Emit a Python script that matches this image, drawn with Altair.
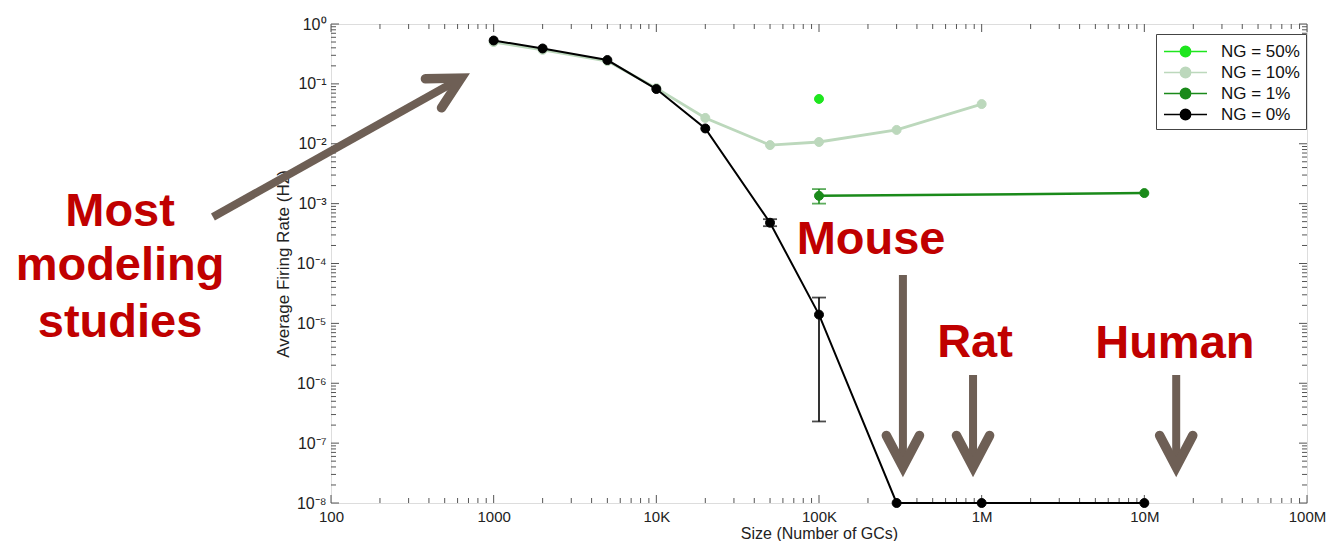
import json
import altair as alt
import pandas as pd

# ---------------- data ----------------
groups = ["NG = 50%", "NG = 10%", "NG = 1%", "NG = 0%"]
group_colors = ["#1ee61e", "#bcd8bc", "#1a8a1a", "#000000"]

size_50 = [1e5]
rate_50 = [0.056]
size_10 = [1e3, 2e3, 5e3, 1e4, 2e4, 5e4, 1e5, 3e5, 1e6]
rate_10 = [0.50, 0.37, 0.24, 0.085, 0.027, 0.0095, 0.0107, 0.017, 0.046]
size_1 = [1e5, 1e7]
rate_1 = [1.35e-3, 1.5e-3]
size_0 = [1e3, 2e3, 5e3, 1e4, 2e4, 5e4, 1e5, 3e5, 1e6, 1e7]
rate_0 = [0.53, 0.39, 0.25, 0.082, 0.018, 4.8e-4, 1.4e-5, 1e-8, 1e-8, 1e-8]

err_group = ["NG = 0%", "NG = 0%", "NG = 1%"]
err_size = [5e4, 1e5, 1e5]
err_low = [4.2e-4, 2.3e-7, 1.0e-3]
err_high = [5.5e-4, 2.7e-5, 1.75e-3]

x_ticks = [1e2, 1e3, 1e4, 1e5, 1e6, 1e7, 1e8]
x_tick_labels = ["100", "1000", "10K", "100K", "1M", "10M", "100M"]
y_ticks = [1e-8, 1e-7, 1e-6, 1e-5, 1e-4, 1e-3, 1e-2, 1e-1, 1.0]
y_tick_labels = ["10⁻⁸", "10⁻⁷", "10⁻⁶", "10⁻⁵", "10⁻⁴", "10⁻³", "10⁻²", "10⁻¹", "10⁰"]

# annotations (in data units)
ann_text = ["Most", "modeling", "studies", "Mouse", "Rat", "Human"]
ann_x = [5.05, 5.05, 5.05, 2.09e5, 9.1e5, 1.54e7]
ann_y = [4.2e-4, 5.3e-5, 5.9e-6, 1.44e-4, 2.75e-6, 2.64e-6]

arrow_x = [18.8, 3.28e5, 8.85e5, 1.57e7]
arrow_y = [5.98e-4, 6.45e-5, 1.37e-6, 1.37e-6]
arrow_x2 = [587, 3.28e5, 8.85e5, 1.57e7]
arrow_y2 = [0.1117, 4.84e-8, 4.84e-8, 4.84e-8]
head_x = [630, 3.28e5, 8.85e5, 1.57e7]
head_y = [0.125, 4.0e-8, 4.0e-8, 4.0e-8]
head_angle = [241, 0, 0, 0]

# ---------------- tables ----------------
series = {
    "NG = 50%": (size_50, rate_50),
    "NG = 10%": (size_10, rate_10),
    "NG = 1%": (size_1, rate_1),
    "NG = 0%": (size_0, rate_0),
}
rows = []
for g, (xs, ys) in series.items():
    for a, b in zip(xs, ys):
        rows.append({"g": g, "x": a, "y": b})
df = pd.DataFrame(rows)

color_of = dict(zip(groups, group_colors))
err_df = pd.DataFrame({"x": err_size, "y": err_low, "y2": err_high,
                       "c": [color_of[g] for g in err_group]})
cap_df = pd.concat([
    pd.DataFrame({"x": err_size, "y": err_low, "c": [color_of[g] for g in err_group]}),
    pd.DataFrame({"x": err_size, "y": err_high, "c": [color_of[g] for g in err_group]}),
])
ann_df = pd.DataFrame({"t": ann_text, "x": ann_x, "y": ann_y})
arrow_df = pd.DataFrame({"x": arrow_x, "y": arrow_y, "x2": arrow_x2, "y2": arrow_y2})
head_df = pd.DataFrame({"x": head_x, "y": head_y, "a": head_angle})

minor_x = [k * 10 ** d for d in range(2, 8) for k in range(2, 10)]
minor_y = [k * 10.0 ** d for d in range(-8, 0) for k in range(2, 10)]

# ---------------- styling ----------------
FONT = "Liberation Sans"
AXC = "#555555"
W, H = 976, 479
RED = "#c00000"
ARROW = "#6e5f55"

xscale = alt.Scale(type="log", domain=[1e2, 1e8], nice=False)
yscale = alt.Scale(type="log", domain=[1e-8, 1.0], nice=False)

xaxis = alt.Axis(
    values=x_ticks,
    labelExpr=json.dumps(x_tick_labels, ensure_ascii=False) + "[round(log(datum.value)/LN10)-2]",
    title="Size (Number of GCs)", ticks=False, grid=False, domain=False,
    labelFont=FONT, labelFontSize=15, labelColor="#222", labelPadding=6,
    labelFlush=False, labelOverlap=False, labelBound=False,
    titleFont=FONT, titleFontSize=16, titleFontWeight="normal", titleColor="#222",
    titlePadding=1,
)
yaxis = alt.Axis(
    values=y_ticks,
    labelExpr=json.dumps(y_tick_labels, ensure_ascii=False) + "[round(log(datum.value)/LN10)+8]",
    title="Average Firing Rate (Hz)", ticks=False, grid=False, domain=False,
    labelFont=FONT, labelFontSize=16, labelColor="#222", labelPadding=5,
    labelFlush=False, labelOverlap=False, labelBound=False,
    titleFont=FONT, titleFontSize=17, titleFontWeight="normal", titleColor="#222",
    titlePadding=4,
)


def X(f="x"):
    return alt.X(f"{f}:Q", scale=xscale, axis=xaxis)


def Y(f="y"):
    return alt.Y(f"{f}:Q", scale=yscale, axis=yaxis)


SYM = "M-2,0H2M0.48,0A0.48,0.48,0,1,1,-0.48,0A0.48,0.48,0,1,1,0.48,0Z"
LEG = alt.Legend(
    title=None, orient="none", legendX=825, legendY=10,
    symbolType=SYM, symbolSize=462, symbolStrokeWidth=1.5,
    symbolOffset=12,
    labelFont=FONT, labelFontSize=17, labelColor="#111", labelOffset=24,
    strokeColor="#444", fillColor="white", padding=6, rowPadding=1,
    cornerRadius=0,
)
cscale = alt.Scale(domain=groups, range=group_colors)

line_w = {"NG = 50%": 2.5, "NG = 10%": 2.8, "NG = 1%": 2.5, "NG = 0%": 2}
draw_order = ["NG = 10%", "NG = 1%", "NG = 50%", "NG = 0%"]

layers = []


# inward ticks (box style)
def tick_layers():
    out = []
    for vals, ln in [(x_ticks, 8), (minor_x, 5)]:
        d = pd.DataFrame({"v": vals})
        out.append(alt.Chart(d).mark_rule(color=AXC, strokeWidth=1).encode(
            x=X("v"), y=alt.value(H), y2=alt.value(H - ln)))
        out.append(alt.Chart(d).mark_rule(color=AXC, strokeWidth=1).encode(
            x=X("v"), y=alt.value(0), y2=alt.value(ln)))
    for vals, ln in [(y_ticks, 8), (minor_y, 5)]:
        d = pd.DataFrame({"v": vals})
        out.append(alt.Chart(d).mark_rule(color=AXC, strokeWidth=1).encode(
            y=Y("v"), x=alt.value(0), x2=alt.value(ln)))
        out.append(alt.Chart(d).mark_rule(color=AXC, strokeWidth=1).encode(
            y=Y("v"), x=alt.value(W), x2=alt.value(W - ln)))
    return out


layers += tick_layers()

base = alt.Chart(df)
for g in draw_order:
    sub = base.transform_filter(alt.datum.g == g)
    layers.append(sub.mark_line(strokeWidth=line_w[g]).encode(
        x=X(), y=Y(), stroke=alt.Stroke("g:N", scale=cscale, legend=LEG)))
    if g in ("NG = 1%", "NG = 0%"):
        e = err_df[err_df.c == color_of[g]]
        c = cap_df[cap_df.c == color_of[g]]
        layers.append(alt.Chart(e).mark_rule(strokeWidth=1.6).encode(
            x=X(), y=Y(), y2="y2:Q", stroke=alt.Stroke("c:N", scale=None)))
        layers.append(alt.Chart(c).mark_tick(orient="horizontal", size=14, thickness=1.8).encode(
            x=X(), y=Y(), color=alt.Color("c:N", scale=None)))
    layers.append(sub.mark_point(filled=True, size=80, strokeWidth=1, opacity=1).encode(
        x=X(), y=Y(),
        fill=alt.Fill("g:N", scale=cscale, legend=LEG),
        stroke=alt.Stroke("g:N", scale=cscale, legend=LEG)))

# annotations
layers.append(alt.Chart(arrow_df).mark_rule(color=ARROW, strokeWidth=8, strokeCap="butt").encode(
    x=X(), y=Y(), x2="x2:Q", y2="y2:Q"))
layers.append(alt.Chart(head_df).mark_point(
    shape="M-1,-1.9L0,0L1,-1.9", size=1100, filled=False, strokeWidth=9.5,
    color=ARROW, opacity=1, strokeJoin="miter", strokeCap="round").encode(
    x=X(), y=Y(), angle=alt.Angle("a:Q", scale=None)))
layers.append(alt.Chart(ann_df).mark_text(
    font=FONT, fontSize=47, fontWeight="bold", color=RED, align="center",
    baseline="alphabetic").encode(x=X(), y=Y(), text="t:N"))

chart = alt.layer(*layers).properties(
    width=W, height=H,
    padding={"left": 323, "top": 16, "right": 20, "bottom": 38},
    autosize=alt.AutoSizeParams(type="none"),
).configure_view(stroke=AXC, strokeWidth=1).configure(background="white")

chart.save("out.html", embed_options={"renderer": "svg", "actions": False})
